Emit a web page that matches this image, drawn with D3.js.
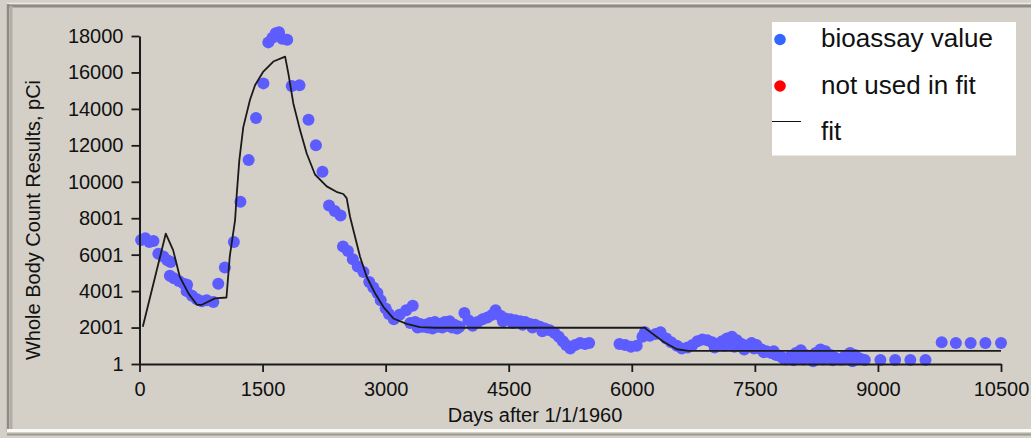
<!DOCTYPE html>
<html>
<head>
<meta charset="utf-8">
<script src="https://cdn.jsdelivr.net/npm/d3@7"></script>
<style>
  html, body { margin: 0; padding: 0; background: #d4d0c8; }
  svg { display: block; }
  text { font-family: "Liberation Sans", Arial, sans-serif; fill: #111; }
</style>
</head>
<body>
<svg id="chart" width="1031" height="438"></svg>
<script>
// ---- data ----
const bioDays = [20,70,120,170,230,290,340,380,370,420,480,540,580,575,640,700,760,820,900,960,1040,1150,1230,
  1330,1420,1510,1570,1620,1660,1700,1740,1800,1855,1950,2060,2150,2230,
  2310,2380,2450,2480,2540,2600,2660,2730,2800,2850,2900,2940,3000,3040,3100,3170,3250,3330,
  3300,3360,3420,3480,3540,3600,3660,3720,3780,3840,3900,3960,4010,4060,4120,4180,4240,4300,4340,
  3390,3450,3510,3570,3630,3690,3750,3810,3870,
  4400,4460,4520,4580,4640,4700,4760,4820,4880,4940,5000,5060,5110,5160,5200,5250,5310,5370,5430,5480,
  4430,4550,4670,4790,4910,
  5850,5920,5990,6060,6130,6160,6220,6290,6350,6420,6480,6550,6610,6680,6740,6800,6860,6920,6980,7040,
  7100,7160,7220,7280,7340,7400,7460,7520,7580,7640,7700,7760,7820,7880,7940,8000,8060,8120,8180,8240,
  8300,8360,8420,8480,8540,8600,8660,8720,8780,8840,9030,9210,9395,9580,9777,9950,10130,10310,10500,
  7010,7130,7250,7370,7490,7610,7730,7850,7970,8090,8210,8330,8450,8570,8690];
const bioValues = [6800,6900,6700,6750,6050,5900,5700,5600,4850,4700,4550,4400,4350,4000,3750,3550,3450,3500,3400,4400,5300,6700,8900,
  11200,13500,15400,17650,17900,18150,18200,17850,17800,15250,15300,13400,12000,10550,
  8700,8400,8150,6450,6200,5750,5350,5050,4500,4200,3900,3500,3050,2750,2450,2700,2950,3200,
  2250,2300,2200,2150,2250,2300,2200,2300,2350,2150,2050,2800,2400,2100,2300,2450,2550,2700,2950,
  2000,2050,2000,1950,2050,2000,2100,2000,1950,
  2650,2500,2450,2400,2350,2300,2200,2150,2050,1950,1850,1700,1500,1250,1050,850,1050,1150,1100,1150,
  2350,2250,2150,2000,1800,
  1100,1050,950,1000,1500,1750,1550,1650,1750,1400,1200,1000,850,900,1050,1250,1350,1300,1200,1100,
  1250,1400,1500,1300,1100,1000,1150,1050,800,700,600,500,400,250,450,600,750,500,350,600,
  800,700,500,350,250,450,600,500,300,220,220,220,220,220,1200,1150,1150,1150,1150,
  900,1000,950,800,850,650,700,300,200,250,150,250,200,250,150];

const fitDays = [40,320,410,490,600,700,760,920,1060,1100,1165,1185,1217,1265,1347,1408,1509,1631,1753,1775,
  1814,1875,1956,2038,2139,2282,2400,2484,2525,2566,2627,2688,2769,2871,2972,3094,3257,3419,3600,
  6161,6182,6385,6548,6690,10500];
const fitValues = [2050,7150,6250,4800,3850,3250,3250,3600,3650,5900,7900,9300,11200,13000,14500,15300,16050,16600,16830,16870,
  15950,14300,12850,11550,10400,9750,9450,9330,9100,8080,6985,5890,4790,3880,3140,2500,2200,2030,1990,
  1990,1900,1220,810,720,720];

const xTicks = [0,1500,3000,4500,6000,7500,9000,10500];
const yTicks = [1,2001,4001,6001,8001,10000,12000,14000,16000,18000];
const legendLabels = ["bioassay value", "not used in fit", "fit"];

// ---- drawing ----
const svg = d3.select("#chart");

// window frame
svg.append("rect").attr("x",0).attr("y",0).attr("width",1031).attr("height",438).attr("fill","#d4d0c8");
svg.append("line").attr("x1",7).attr("x2",1031).attr("y1",3.5).attr("y2",3.5).attr("stroke","#ebe9e3").attr("stroke-width",1.5);
svg.append("line").attr("x1",7).attr("x2",1031).attr("y1",6).attr("y2",6).attr("stroke","#8e8b84").attr("stroke-width",3);
svg.append("line").attr("x1",8).attr("x2",8).attr("y1",4).attr("y2",432).attr("stroke","#8e8b84").attr("stroke-width",2.5);
svg.append("line").attr("x1",11).attr("x2",11).attr("y1",6).attr("y2",430).attr("stroke","#b2aea6").attr("stroke-width",3);
svg.append("line").attr("x1",7).attr("x2",1031).attr("y1",430.5).attr("y2",430.5).attr("stroke","#fbfaf6").attr("stroke-width",3);
svg.append("line").attr("x1",7).attr("x2",1031).attr("y1",434.5).attr("y2",434.5).attr("stroke","#9a978f").attr("stroke-width",2);

const x = d3.scaleLinear().domain([0,10500]).range([139.5,1001]);
const y = d3.scaleLinear().domain([1,18000]).range([364,36]);

// data points
const pts = bioDays.map((d,i)=>({d, v: bioValues[i]}));
svg.append("g").selectAll("circle").data(pts).join("circle")
  .attr("cx", p=>x(p.d)).attr("cy", p=>y(p.v)).attr("r", 6)
  .attr("fill", "#5c5cff");

// fit line
const fit = fitDays.map((d,i)=>({d, v: fitValues[i]}));
svg.append("path").datum(fit)
  .attr("d", d3.line().x(p=>x(p.d)).y(p=>y(p.v)))
  .attr("fill","none").attr("stroke","#1a1a1a").attr("stroke-width",1.8).attr("stroke-linejoin","round");

// axes
const gx = svg.append("g").attr("transform","translate(0,364)")
  .call(d3.axisBottom(x).tickValues(xTicks).tickFormat(d3.format("d")).tickSize(8).tickSizeOuter(0).tickPadding(10));
const gy = svg.append("g").attr("transform","translate(139.5,0)")
  .call(d3.axisLeft(y).tickValues(yTicks).tickFormat(d3.format("d")).tickSize(8).tickSizeOuter(0).tickPadding(8));
[gx, gy].forEach(g => {
  g.select(".domain").attr("stroke","#1a1a1a").attr("stroke-width",2);
  g.selectAll(".tick line").attr("stroke","#1a1a1a").attr("stroke-width",1.8);
  g.selectAll(".tick text").attr("font-size",20).attr("font-family","Liberation Sans, Arial, sans-serif").attr("fill","#111");
});

// axis titles
svg.append("text").attr("x",535).attr("y",421.5).attr("text-anchor","middle").attr("font-size",20)
  .text("Days after 1/1/1960");
svg.append("text").attr("transform","translate(40,220) rotate(-90)").attr("text-anchor","middle").attr("font-size",20)
  .text("Whole Body Count Results, pCi");

// legend
const lg = svg.append("g");
lg.append("rect").attr("x",772).attr("y",22).attr("width",244).attr("height",133.5).attr("fill","#ffffff");
const legendColors = ["#3366ff","#ff0000",null];
legendLabels.forEach((lab,i)=>{
  const cy = 39.5 + i*46.5;
  if (legendColors[i]) {
    lg.append("circle").attr("cx",780).attr("cy",cy).attr("r",5.8).attr("fill",legendColors[i]);
  } else {
    lg.append("line").attr("x1",772).attr("x2",801).attr("y1",cy-11).attr("y2",cy-11).attr("stroke","#111").attr("stroke-width",1);
  }
  lg.append("text").attr("x",821).attr("y",cy+7.5).attr("font-size",26).text(lab);
});
</script>
</body>
</html>
